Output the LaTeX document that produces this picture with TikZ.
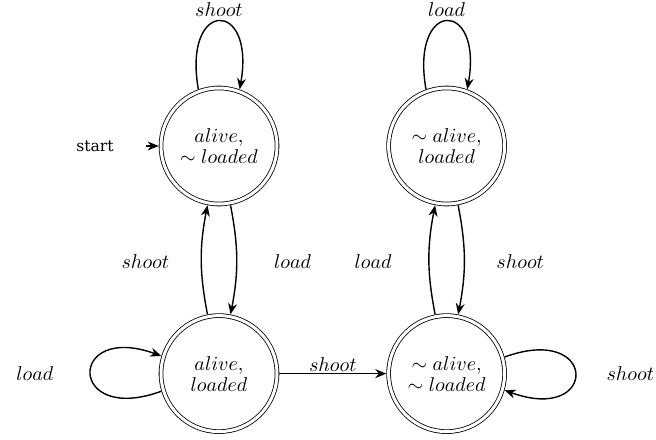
\documentclass[tikz,border=0pt]{standalone}
\usepackage{fontspec}
\newfontfamily\startfont{DejaVu Serif}
\usetikzlibrary{arrows.meta,positioning}

\begin{document}
\begin{tikzpicture}[
  state/.style={circle, draw, double, double distance=1.5pt, thin,
    minimum size=58pt, inner sep=0pt, outer sep=1.2pt, align=center,
    font=\fontsize{10}{10.5}\selectfont},
  edge/.style={-{Stealth[length=5.5pt,width=4.5pt]}, line width=0.7pt},
  node distance=4cm, on grid]
  \useasboundingbox (-109.5pt,-146.5pt) rectangle (218.5pt,73pt);

  % states
  \node[state] (A) at (0,0) {$alive,$\\$\sim loaded$};
  \node[state, right=of A] (B) {$\sim alive,$\\$loaded$};
  \node[state, below=of A] (C) {$alive,$\\$loaded$};
  \node[state, right=of C] (D) {$\sim alive,$\\$\sim loaded$};

  % start
  \node (starttext) at (-62pt,0) {\startfont\fontsize{7.8}{9}\selectfont start};
  \coordinate[left=6.5pt of A.west] (ini);
  \draw[edge] (ini) -- (A);

  % loops
  \draw[edge] (A.110) .. controls +(100:46pt) and +(80:46pt) .. (A.70)
    node[midway, above, inner sep=2pt]{$shoot$};
  \draw[edge] (B.110) .. controls +(100:46pt) and +(80:46pt) .. (B.70)
    node[midway, above, inner sep=2pt]{$load$};
  \draw[edge] (C.197) .. controls +(200:50pt) and +(160:50pt) .. (C.163)
    node[midway, left=15pt]{$load$};
  \draw[edge] (D.16) .. controls +(20:50pt) and +(-20:50pt) .. (D.-16)
    node[midway, right=12pt]{$shoot$};

  % transitions
  \draw[edge] (C) to[bend left=11] node[midway, xshift=-28pt, yshift=-1pt]{$shoot$} (A);
  \draw[edge] (A) to[bend left=11] node[midway, xshift=28pt, yshift=-1pt]{$load$} (C);
  \draw[edge] (D) to[bend left=11] node[midway, xshift=-28pt, yshift=-1pt]{$load$} (B);
  \draw[edge] (B) to[bend left=11] node[midway, xshift=28pt, yshift=-1pt]{$shoot$} (D);
  \draw[edge] (C) -- node[above, inner sep=0.8pt]{$shoot$} (D);
\end{tikzpicture}
\end{document}
